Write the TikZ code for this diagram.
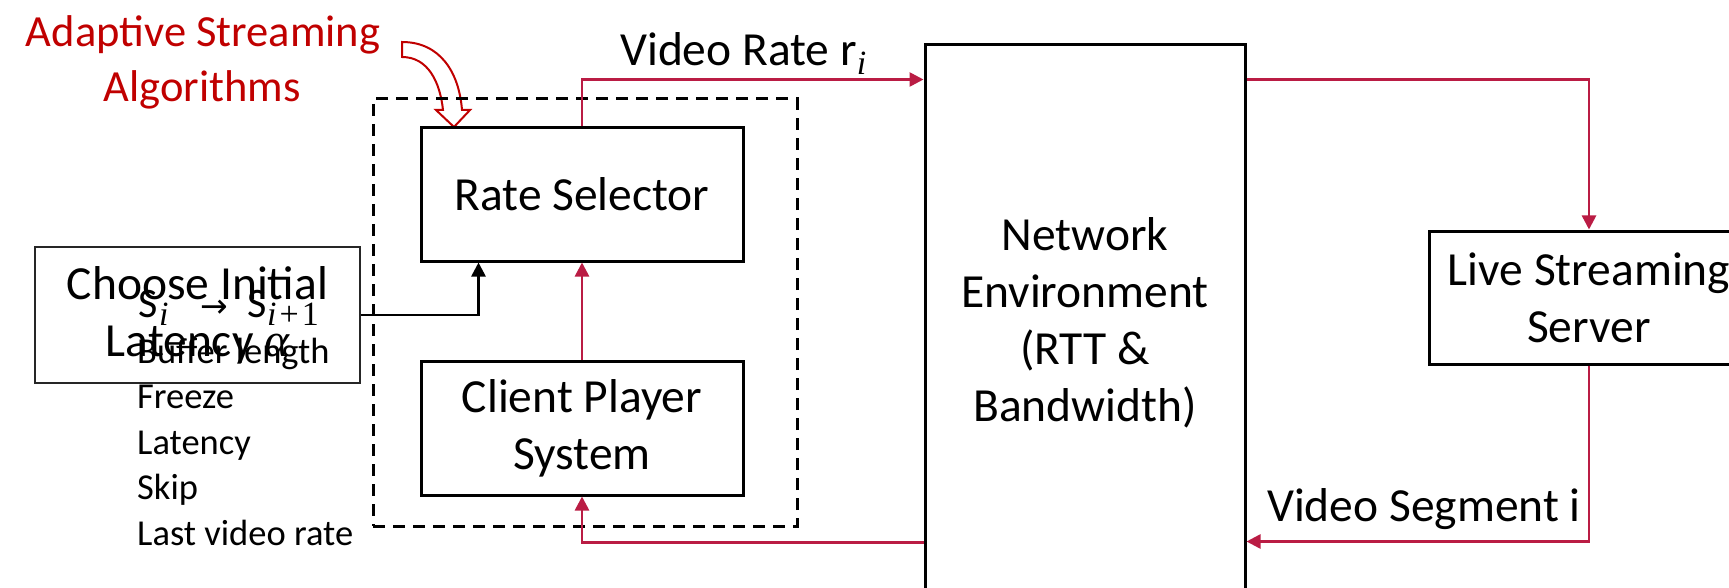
\documentclass[tikz,border=0pt]{standalone}
\usepackage{fontspec}
\setmainfont{Carlito}
\newfontfamily\mathlike{Liberation Serif}
\newfontfamily\arrowfont{DejaVu Sans}
\usetikzlibrary{arrows.meta}
\definecolor{connred}{RGB}{186,28,68}
\definecolor{titlered}{RGB}{192,0,0}
\begin{document}
\begin{tikzpicture}[x=1pt,y=-1pt,
  bigtext/.style={font=\fontsize{47.5}{57}\selectfont},
  box/.style={draw=black, line width=3pt, inner sep=0pt, align=center, bigtext},
  conn/.style={draw=connred, line width=2.6pt, -{Triangle[length=14pt,width=14pt]}},
  blk/.style={draw=black, line width=2.6pt, -{Triangle[length=14pt,width=14pt]}},
  listtext/.style={anchor=base west, inner sep=0pt, font=\fontsize{36.5}{45.5}\selectfont},
  titletext/.style={anchor=base, inner sep=0pt, text=titlered, font=\fontsize{44.5}{55}\selectfont},
  grpbox/.style={draw=black, line width=3pt, dash pattern=on 12pt off 8pt, inner sep=0pt}
]
\useasboundingbox (0,0) rectangle (1729,588);

% hollow curved arrow
\draw[titlered, line width=2pt, line join=miter] (402,42) .. controls (440,42) and (459,72) .. (462,110) -- (470,110) -- (454,127) -- (436,110) -- (443,110) .. controls (440,82) and (428,57) .. (402,57) -- cycle;

% group box
\node[grpbox, minimum width=424pt, minimum height=427pt] (grp) at (585,312.5) {};

% boxes
\node[box, minimum width=322pt, minimum height=133pt] (rate) at (582,194.5) {Rate Selector};
\node[box, minimum width=322pt, minimum height=134pt] (client) at (582,428) {Client Player\\System};
\node[box, minimum width=320pt, minimum height=555pt] (net) at (1085,322.5) {Network\\Environment\\(RTT \&\\Bandwidth)};
\node[box, minimum width=320pt, minimum height=133pt] (live) at (1589,297.5) {Live Streaming\\Server};
\node[box, line width=2pt, draw=black!85, minimum width=325pt, minimum height=136pt] (choose) at (197.5,315) {Choose Initial\\Latency {\mathlike\itshape α}};

% title
\node[titletext] (t1) at (203,47) {Adaptive Streaming};
\node[titletext] (t2) at (202,102) {Algorithms};

% state text
\node[anchor=base west, inner sep=0pt, font=\fontsize{42}{50}\selectfont] (st) at (138,317) {\makebox[21pt][l]{S}\makebox[41pt][l]{\raisebox{-8pt}{\fontsize{34}{34}\selectfont\mathlike\itshape i}}\makebox[47pt][l]{\fontsize{33}{33}\selectfont\arrowfont →}\makebox[20pt][l]{S}\raisebox{-8pt}{\fontsize{34}{34}\selectfont\mathlike{\itshape i}\hspace{3pt}+\hspace{3pt}1}};
\node[listtext] (l1) at (137,363) {Buffer length};
\node[listtext] (l2) at (137,408.5) {Freeze};
\node[listtext] (l3) at (137,454) {Latency};
\node[listtext] (l4) at (137,499.5) {Skip};
\node[listtext] (l5) at (137,545) {Last video rate};

% labels
\node[anchor=base west, inner sep=0pt, bigtext] (vr) at (620,66) {Video Rate r\raisebox{-9pt}{\fontsize{34}{34}\selectfont\mathlike\itshape i}};
\node[anchor=base east, inner sep=0pt, bigtext] (vs) at (1581,521) {Video Segment i};

% connectors
\draw[conn] (rate.north) |- ([yshift=-36pt]net.north west);
\draw[conn] ([yshift=-36pt]net.north east) -| (live.north);
\draw[conn] (live.south) |- ([yshift=-498pt]net.north east);
\draw[conn] ([yshift=-499pt]net.north west) -| (client.south);
\draw[conn] (client.north) -- (rate.south);
\draw[blk] (choose.east) -| ([xshift=59pt]rate.south west);
\end{tikzpicture}
\end{document}
